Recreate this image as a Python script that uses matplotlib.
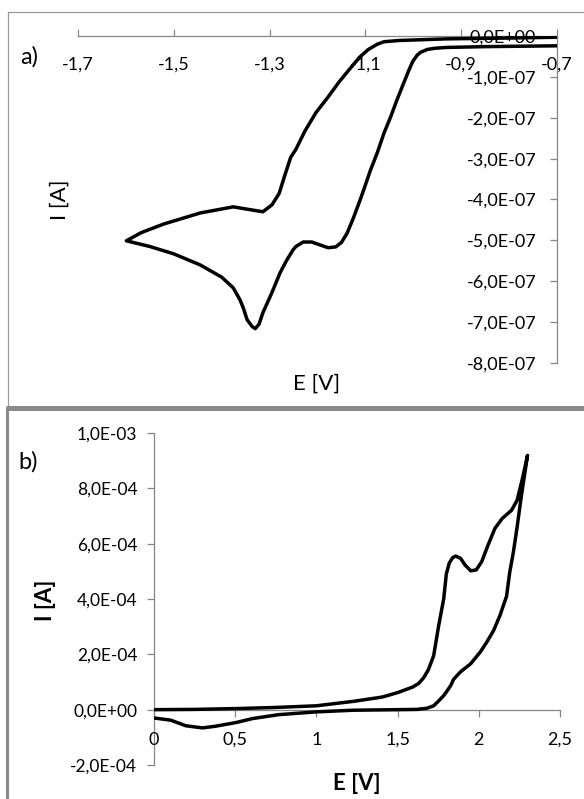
import matplotlib
matplotlib.use("Agg")
import matplotlib.pyplot as plt
from matplotlib.lines import Line2D

plt.rcParams['font.family'] = ['Lato', 'DejaVu Sans']

# ---------------- data: panel a) ----------------
# cathodic sweep (from -0.7 V to the vertex at -1.6 V); current in units of 1e-7 A
a_fwd_E = [-0.700, -0.850, -0.930, -0.955, -0.971, -0.985, -0.992, -1.001, -1.009, -1.020,
           -1.034, -1.047, -1.061, -1.075, -1.090, -1.104, -1.111, -1.125, -1.138, -1.150,
           -1.162, -1.178, -1.195, -1.212, -1.230, -1.245, -1.251, -1.265, -1.278, -1.296,
           -1.314, -1.322, -1.330, -1.337, -1.347, -1.355, -1.362, -1.376, -1.400, -1.445,
           -1.500, -1.550, -1.599]
a_fwd_I = [-0.24, -0.26, -0.28, -0.30, -0.33, -0.40, -0.47, -0.62, -0.83, -1.15,
           -1.56, -1.97, -2.37, -2.85, -3.30, -3.78, -4.01, -4.45, -4.82, -5.05,
           -5.16, -5.18, -5.11, -5.04, -5.04, -5.15, -5.23, -5.50, -5.79, -6.30,
           -6.77, -7.05, -7.16, -7.10, -6.94, -6.65, -6.45, -6.16, -5.90, -5.60,
           -5.33, -5.15, -5.01]
# return sweep (from vertex back to -0.7 V)
a_rev_E = [-1.568, -1.521, -1.445, -1.376, -1.335, -1.314, -1.295, -1.280, -1.268, -1.256,
           -1.245, -1.226, -1.203, -1.179, -1.156, -1.133, -1.113, -1.094, -1.075, -1.061,
           -1.030, -0.930, -0.800, -0.700]
a_rev_I = [-4.81, -4.60, -4.33, -4.18, -4.26, -4.30, -4.13, -3.85, -3.40, -2.97,
           -2.77, -2.32, -1.87, -1.51, -1.14, -0.81, -0.53, -0.33, -0.20, -0.14,
           -0.11, -0.07, -0.05, -0.03]
a_scale = 1e-7

a_xticks = [-1.7, -1.5, -1.3, -1.1, -0.9, -0.7]
a_xticklabels = ['-1,7', '-1,5', '-1,3', '-1,1', '-0,9', '-0,7']
a_yticks = [0, -1e-7, -2e-7, -3e-7, -4e-7, -5e-7, -6e-7, -7e-7, -8e-7]
a_yticklabels = ['0,0E+00', '-1,0E-07', '-2,0E-07', '-3,0E-07', '-4,0E-07',
                 '-5,0E-07', '-6,0E-07', '-7,0E-07', '-8,0E-07']

# ---------------- data: panel b) ----------------
# current in units of 1e-4 A
b_fwd_E = [0.0, 0.25, 0.51, 0.75, 1.0, 1.227, 1.388, 1.414, 1.502, 1.594,
           1.63, 1.66, 1.69, 1.722, 1.753, 1.784, 1.800, 1.818, 1.840, 1.858,
           1.888, 1.915, 1.950, 1.984, 2.018, 2.053, 2.099, 2.144, 2.202, 2.236,
           2.271, 2.300]
b_fwd_I = [0.0, 0.01, 0.04, 0.08, 0.14, 0.30, 0.44, 0.47, 0.62, 0.82,
           0.95, 1.15, 1.45, 1.95, 3.04, 4.01, 4.90, 5.30, 5.50, 5.55,
           5.47, 5.23, 5.02, 5.05, 5.35, 5.89, 6.55, 6.91, 7.21, 7.57,
           8.41, 9.19]
b_rev_E = [2.282, 2.259, 2.236, 2.213, 2.190, 2.171, 2.130, 2.091, 2.050, 2.011,
           1.950, 1.888, 1.845, 1.827, 1.805, 1.784, 1.750, 1.722, 1.680, 1.620,
           1.500, 1.227, 1.000, 0.768, 0.608, 0.509, 0.378, 0.298, 0.195, 0.103,
           0.0]
b_rev_I = [8.50, 7.60, 6.60, 5.70, 4.95, 4.10, 3.40, 2.86, 2.45, 2.10,
           1.66, 1.37, 1.10, 0.87, 0.68, 0.51, 0.30, 0.14, 0.05, 0.01,
           0.0, -0.02, -0.08, -0.18, -0.32, -0.46, -0.60, -0.66, -0.58, -0.38,
           -0.30]
b_scale = 1e-4

b_xticks = [0, 0.5, 1, 1.5, 2, 2.5]
b_xticklabels = ['0', '0,5', '1', '1,5', '2', '2,5']
b_yticks = [-2e-4, 0, 2e-4, 4e-4, 6e-4, 8e-4, 1e-3]
b_yticklabels = ['-2,0E-04', '0,0E+00', '2,0E-04', '4,0E-04', '6,0E-04', '8,0E-04', '1,0E-03']

# ---------------- figure ----------------
W, H = 584, 799
fig = plt.figure(figsize=(W / 100, H / 100), dpi=100)
fig.patch.set_facecolor('white')


def fx(px):
    return px / W


def fy(py):
    return 1 - py / H


GRAY = '#868686'
FRAME = '#8a8a8a'

# panel frames
fig.add_artist(Line2D([fx(8), fx(8)], [fy(12), fy(405)], color='#9a9a9a', lw=0.9,
                      transform=fig.transFigure))
fig.add_artist(Line2D([fx(8), fx(584)], [fy(12), fy(12)], color='#9a9a9a', lw=0.9,
                      transform=fig.transFigure))
fig.add_artist(Line2D([fx(6), fx(584)], [fy(407.5), fy(407.5)], color=FRAME, lw=3.6,
                      transform=fig.transFigure, solid_capstyle='butt'))
fig.add_artist(Line2D([fx(6.5), fx(6.5)], [fy(407), fy(799)], color=FRAME, lw=2.2,
                      transform=fig.transFigure, solid_capstyle='butt'))

# ---- panel a ----
ax1 = fig.add_axes([fx(78), fy(363), fx(557) - fx(78), fy(36) - fy(363)])
ax1.set_facecolor('none')
ax1.plot([e for e in a_fwd_E + a_rev_E],
         [i * a_scale for i in a_fwd_I + a_rev_I],
         color='black', lw=2.5, solid_joinstyle='round', solid_capstyle='butt')
ax1.set_xlim(-1.7, -0.7)
ax1.set_ylim(-8e-7, 0)
ax1.spines['top'].set_visible(False)
ax1.spines['right'].set_visible(False)
ax1.spines['bottom'].set_position(('data', 0))
ax1.spines['left'].set_position(('data', -0.7))
for s in ('bottom', 'left'):
    ax1.spines[s].set_color(GRAY)
    ax1.spines[s].set_linewidth(0.9)
    ax1.spines[s].set_zorder(1)
ax1.set_xticks(a_xticks)
ax1.set_xticklabels(a_xticklabels)
ax1.set_yticks(a_yticks)
ax1.set_yticklabels(a_yticklabels)
ax1.tick_params(axis='x', direction='in', length=5, width=0.9, color=GRAY,
                pad=15, labelsize=13)
ax1.tick_params(axis='y', direction='out', length=5, width=0.9, color=GRAY,
                pad=10, labelsize=13)
fig.text(fx(29), fy(57), 'a)', fontsize=17, ha='center', va='center')
fig.text(fx(60), fy(200), 'I [A]', fontsize=16, rotation=90, ha='center', va='center')
fig.text(fx(317), fy(384), 'E [V]', fontsize=16, ha='center', va='center')

# ---- panel b ----
ax2 = fig.add_axes([fx(154), fy(765), fx(560) - fx(154), fy(433) - fy(765)])
ax2.set_facecolor('none')
ax2.plot([e for e in b_fwd_E + b_rev_E],
         [i * b_scale for i in b_fwd_I + b_rev_I],
         color='black', lw=2.5, solid_joinstyle='round', solid_capstyle='butt')
ax2.set_xlim(0, 2.5)
ax2.set_ylim(-2e-4, 1e-3)
ax2.spines['top'].set_visible(False)
ax2.spines['right'].set_visible(False)
ax2.spines['bottom'].set_position(('data', 0))
for s in ('bottom', 'left'):
    ax2.spines[s].set_color(GRAY)
    ax2.spines[s].set_linewidth(0.9)
    ax2.spines[s].set_zorder(1)
ax2.set_xticks(b_xticks)
ax2.set_xticklabels(b_xticklabels)
ax2.set_yticks(b_yticks)
ax2.set_yticklabels(b_yticklabels)
ax2.tick_params(axis='x', direction='out', length=5, width=0.9, color=GRAY,
                pad=11, labelsize=13)
ax2.tick_params(axis='y', direction='out', length=5, width=0.9, color=GRAY,
                pad=7, labelsize=12.5)
fig.text(fx(28), fy(462), 'b)', fontsize=17, ha='center', va='center')
fig.text(fx(45), fy(600), 'I [A]', fontsize=16, fontweight='bold', rotation=90,
         ha='center', va='center')
fig.text(fx(357), fy(783), 'E [V]', fontsize=16, fontweight='bold', ha='center', va='center')

fig.savefig('out.png', dpi=100, facecolor='white')
